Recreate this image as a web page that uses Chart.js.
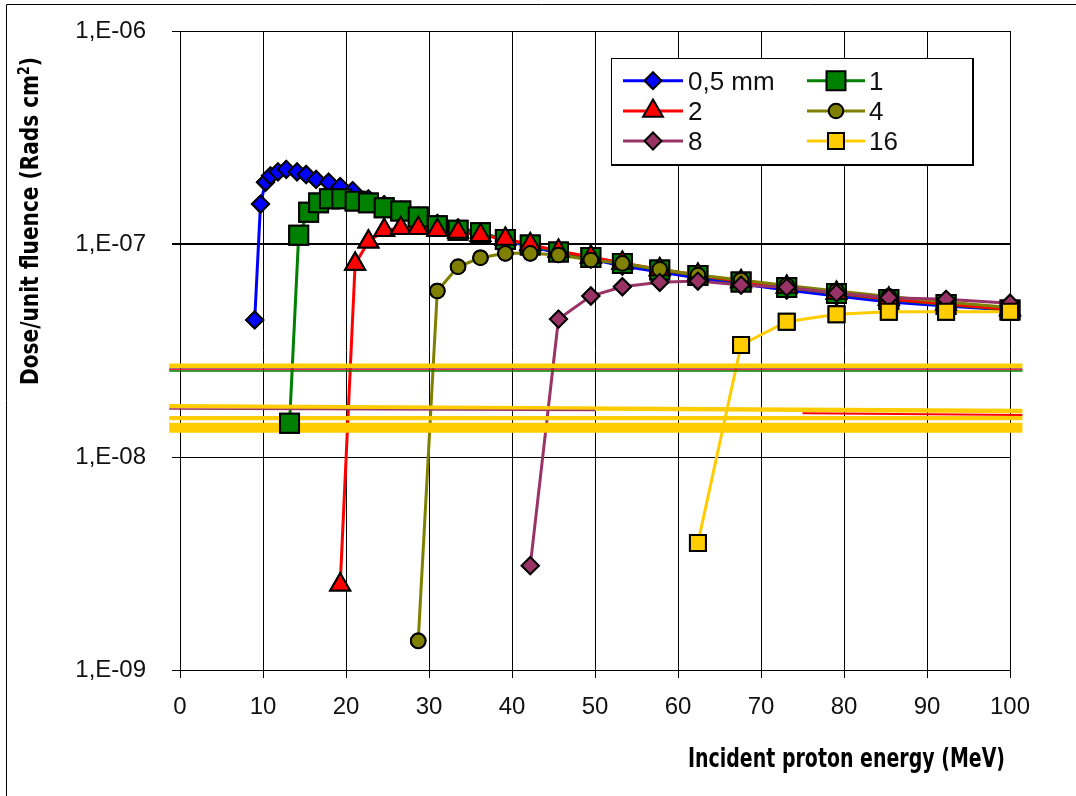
<!DOCTYPE html>
<html>
<head>
<meta charset="utf-8">
<script src="https://cdn.jsdelivr.net/npm/chart.js@4.4.1/dist/chart.umd.min.js"></script>
<style>
  html, body { margin: 0; padding: 0; background: #fff; }
  canvas { display: block; }
</style>
</head>
<body>
<canvas id="chart" width="1076" height="796"></canvas>
<script>
// Incident proton energy (MeV) and dose per unit fluence (rads cm2) for each shield thickness
const seriesNames = ['0,5 mm', '1', '2', '4', '8', '16'];

const energy05 = [9.0, 9.7, 10.3, 10.9, 11.8, 12.8, 14.1, 15.2, 16.4, 17.9, 19.3, 20.8, 22.7, 24.6, 26.6, 28.7, 31.0, 33.5, 36.2, 39.2, 42.2, 45.6, 49.5, 53.3, 57.8, 62.4, 67.6, 73.1, 79.1, 85.4, 92.3, 100];
const dose05 = [4.40e-8, 1.54e-7, 1.95e-7, 2.09e-7, 2.18e-7, 2.24e-7, 2.18e-7, 2.12e-7, 2.01e-7, 1.95e-7, 1.86e-7, 1.78e-7, 1.63e-7, 1.53e-7, 1.44e-7, 1.35e-7, 1.25e-7, 1.19e-7, 1.13e-7, 1.04e-7, 9.73e-8, 9.07e-8, 8.50e-8, 7.88e-8, 7.39e-8, 6.92e-8, 6.49e-8, 6.08e-8, 5.70e-8, 5.34e-8, 5.11e-8, 4.90e-8];

const energy1 = [13.2, 14.3, 15.5, 16.7, 18.0, 19.5, 21.1, 22.7, 24.6, 26.6, 28.7, 31.0, 33.5, 36.2, 39.2, 42.2, 45.6, 49.5, 53.3, 57.8, 62.4, 67.6, 73.1, 79.1, 85.4, 92.3, 100];
const dose1 = [1.44e-8, 1.10e-7, 1.41e-7, 1.56e-7, 1.63e-7, 1.63e-7, 1.59e-7, 1.56e-7, 1.48e-7, 1.43e-7, 1.34e-7, 1.22e-7, 1.16e-7, 1.13e-7, 1.05e-7, 9.89e-8, 9.17e-8, 8.64e-8, 8.10e-8, 7.55e-8, 7.11e-8, 6.63e-8, 6.25e-8, 5.86e-8, 5.49e-8, 5.20e-8, 4.90e-8];

const energy2 = [19.3, 21.1, 22.7, 24.6, 26.6, 28.7, 31.0, 33.5, 36.2, 39.2, 42.2, 45.6, 49.5, 53.3, 57.8, 62.4, 67.6, 73.1, 79.1, 85.4, 92.3, 100];
const dose2 = [2.51e-9, 8.05e-8, 1.025e-7, 1.16e-7, 1.185e-7, 1.185e-7, 1.16e-7, 1.14e-7, 1.10e-7, 1.055e-7, 9.95e-8, 9.27e-8, 8.69e-8, 8.14e-8, 7.59e-8, 7.15e-8, 6.67e-8, 6.28e-8, 5.89e-8, 5.52e-8, 5.23e-8, 4.92e-8];

const energy4 = [28.7, 31.0, 33.5, 36.2, 39.2, 42.2, 45.6, 49.5, 53.3, 57.8, 62.4, 67.6, 73.1, 79.1, 85.4, 92.3, 100];
const dose4 = [1.37e-9, 6.02e-8, 7.82e-8, 8.62e-8, 9.04e-8, 9.04e-8, 8.88e-8, 8.41e-8, 8.11e-8, 7.61e-8, 7.15e-8, 6.78e-8, 6.39e-8, 6.02e-8, 5.67e-8, 5.34e-8, 5.03e-8];

const energy8 = [42.2, 45.6, 49.5, 53.3, 57.8, 62.4, 67.6, 73.1, 79.1, 85.4, 92.3, 100];
const dose8 = [3.09e-9, 4.44e-8, 5.70e-8, 6.30e-8, 6.61e-8, 6.70e-8, 6.42e-8, 6.26e-8, 5.89e-8, 5.60e-8, 5.50e-8, 5.27e-8];

const energy16 = [62.4, 67.6, 73.1, 79.1, 85.4, 92.3, 100];
const dose16 = [3.95e-9, 3.36e-8, 4.32e-8, 4.68e-8, 4.81e-8, 4.81e-8, 4.81e-8];

// Horizontal trace lines that run across the plot
const traceFullX = [-1.3, 101.5];
const traceTopYellow = [2.68e-8, 2.68e-8];
const traceTopPurple = [2.595e-8, 2.595e-8];
const traceTopRed = [2.567e-8, 2.567e-8];
const traceTopGreen = [2.534e-8, 2.534e-8];
const traceMidYellow = [1.735e-8, 1.644e-8];
const tracePurpleX = [-1.3, 50];
const traceMidPurple = [1.68e-8, 1.655e-8];
const traceRedX = [75, 101.5];
const traceMidRed = [1.604e-8, 1.575e-8];
const traceLowYellow = [1.521e-8, 1.521e-8];
const traceBaseYellow = [1.373e-8, 1.373e-8];

// Axis ticks
const xTickValues = [0, 10, 20, 30, 40, 50, 60, 70, 80, 90, 100];
const xTickLabels = ['0', '10', '20', '30', '40', '50', '60', '70', '80', '90', '100'];
const yTickValues = [1e-9, 1e-8, 1e-7, 1e-6];
const yTickLabels = ['1,E-09', '1,E-08', '1,E-07', '1,E-06'];

const xTitle = 'Incident proton energy (MeV)';
const yTitleMain = 'Dose/unit fluence (Rads cm';
const yTitleSup = '2';
const yTitleEnd = ')';

// ---------------------------------------------------------------------------
const toPoints = (xs, ys) => xs.map((x, i) => ({ x: x, y: ys[i] }));

const seriesStyles = [
  { color: '#0000FF', shape: 'rectRot', radius: 8.5 },
  { color: '#008000', shape: 'rect', radius: 13.4 },
  { color: '#FF0000', shape: 'triangle', radius: 11.5 },
  { color: '#808000', shape: 'circle', radius: 7.3 },
  { color: '#993366', shape: 'rectRot', radius: 8.5 },
  { color: '#FFCC00', shape: 'rect', radius: 11.3 }
];
const seriesPoints = [
  toPoints(energy05, dose05),
  toPoints(energy1, dose1),
  toPoints(energy2, dose2),
  toPoints(energy4, dose4),
  toPoints(energy8, dose8),
  toPoints(energy16, dose16)
];

const seriesDatasets = seriesNames.map((name, i) => ({
  label: name,
  data: seriesPoints[i],
  borderColor: seriesStyles[i].color,
  backgroundColor: seriesStyles[i].color,
  borderWidth: 3,
  pointStyle: seriesStyles[i].shape,
  pointRadius: seriesStyles[i].radius,
  pointHoverRadius: seriesStyles[i].radius,
  pointBackgroundColor: seriesStyles[i].color,
  pointBorderColor: '#000',
  pointBorderWidth: 2,
  tension: 0,
  clip: false,
  order: 6 - i
}));

function traceLine(xs, ys, color, width) {
  return {
    label: '',
    data: toPoints(xs, ys),
    borderColor: color,
    backgroundColor: color,
    borderWidth: width,
    pointRadius: 0,
    pointHoverRadius: 0,
    borderCapStyle: 'butt',
    tension: 0,
    clip: false,
    order: 0
  };
}

const traceDatasets = [
  traceLine(traceFullX, traceTopGreen, '#008000', 1.5),
  traceLine(traceFullX, traceTopRed, '#FF0000', 1),
  traceLine(traceFullX, traceTopPurple, '#993366', 1.2),
  traceLine(traceFullX, traceTopYellow, '#FFCC00', 4.5),
  traceLine(tracePurpleX, traceMidPurple, '#993366', 1.5),
  traceLine(traceRedX, traceMidRed, '#FF0000', 2),
  traceLine(traceFullX, traceMidYellow, '#FFCC00', 4.3),
  traceLine(traceFullX, traceLowYellow, '#FFCC00', 4.3),
  traceLine(traceFullX, traceBaseYellow, '#FFCC00', 10)
];

const tickFont = { family: '"Liberation Sans", Arial, sans-serif', size: 24 };
const titleFamily = '"Liberation Sans Narrow", "DejaVu Sans Condensed", "Liberation Sans", sans-serif';

// Marker outline shared by the legend
function drawMarker(ctx, shape, x, y, r, fill) {
  ctx.beginPath();
  if (shape === 'circle') {
    ctx.arc(x, y, r, 0, Math.PI * 2);
  } else if (shape === 'rect') {
    const s = Math.SQRT1_2 * r;
    ctx.rect(x - s, y - s, 2 * s, 2 * s);
  } else if (shape === 'rectRot') {
    ctx.moveTo(x - r, y); ctx.lineTo(x, y - r); ctx.lineTo(x + r, y); ctx.lineTo(x, y + r);
    ctx.closePath();
  } else if (shape === 'triangle') {
    const h = Math.sin(Math.PI / 3) * r;
    ctx.moveTo(x, y - r); ctx.lineTo(x + h, y + r / 2); ctx.lineTo(x - h, y + r / 2);
    ctx.closePath();
  }
  ctx.fillStyle = fill;
  ctx.fill();
  ctx.lineWidth = 2;
  ctx.strokeStyle = '#000';
  ctx.stroke();
}

// Markers go on top of every line, series by series
const markersOnTop = {
  id: 'markersOnTop',
  afterDatasetsDraw(chart) {
    for (let i = 0; i < seriesNames.length; i++) {
      const meta = chart.getDatasetMeta(i);
      meta.data.forEach(p => p.draw(chart.ctx));
    }
  }
};

const legendBox = {
  id: 'legendBox',
  afterDraw(chart) {
    const ctx = chart.ctx;
    ctx.save();
    const L = 611, T = 58, R = 972, B = 164;
    ctx.fillStyle = '#fff';
    ctx.fillRect(L, T, R - L, B - T);
    ctx.strokeStyle = '#000';
    ctx.lineWidth = 1;
    ctx.strokeRect(L + 0.5, T + 0.5, R - L, B - T);
    ctx.lineWidth = 2;
    ctx.beginPath();
    ctx.moveTo(L, B + 1); ctx.lineTo(R + 1, B + 1); ctx.lineTo(R + 1, T);
    ctx.stroke();
    const rowsY = [80.7, 111, 141];
    const cols = [
      { x1: 623, x2: 683, mx: 653, tx: 688 },
      { x1: 807, x2: 865, mx: 836, tx: 869 }
    ];
    ctx.font = '26px "Liberation Sans", Arial, sans-serif';
    ctx.textBaseline = 'alphabetic';
    ctx.textAlign = 'left';
    seriesNames.forEach((name, i) => {
      const c = cols[i % 2];
      const y = rowsY[Math.floor(i / 2)];
      const st = seriesStyles[i];
      ctx.strokeStyle = st.color;
      ctx.lineWidth = 3;
      ctx.beginPath();
      ctx.moveTo(c.x1, y); ctx.lineTo(c.x2, y);
      ctx.stroke();
      drawMarker(ctx, st.shape, c.mx, y, st.radius, st.color);
      ctx.fillStyle = '#111';
      ctx.fillText(name, c.tx, y + 9);
    });
    ctx.restore();
  }
};

const titlesAndFrame = {
  id: 'titlesAndFrame',
  afterDraw(chart) {
    const ctx = chart.ctx;
    ctx.save();
    // outer frame
    ctx.strokeStyle = '#000';
    ctx.lineWidth = 1;
    ctx.beginPath();
    ctx.moveTo(6.5, 800); ctx.lineTo(6.5, 4.5); ctx.lineTo(1080, 4.5);
    ctx.stroke();

    ctx.fillStyle = '#000';
    ctx.textBaseline = 'alphabetic';
    ctx.textAlign = 'left';

    // x axis title
    ctx.font = 'bold 26px ' + titleFamily;
    let w = ctx.measureText(xTitle).width;
    ctx.save();
    ctx.translate(688, 767);
    ctx.scale(317 / w, 1);
    ctx.fillText(xTitle, 0, 0);
    ctx.restore();

    // y axis title, rotated, with superscript
    const mainFont = 'bold 24px ' + titleFamily;
    const supFont = 'bold 15px ' + titleFamily;
    ctx.font = mainFont;
    const w1 = ctx.measureText(yTitleMain).width;
    const w3 = ctx.measureText(yTitleEnd).width;
    ctx.font = supFont;
    const w2 = ctx.measureText(yTitleSup).width;
    const total = w1 + w2 + w3;
    ctx.save();
    ctx.translate(38, 221);
    ctx.rotate(-Math.PI / 2);
    ctx.scale(328 / total, 1);
    const x0 = -total / 2;
    ctx.font = mainFont;
    ctx.fillText(yTitleMain, x0, 0);
    ctx.font = supFont;
    ctx.fillText(yTitleSup, x0 + w1, -9);
    ctx.font = mainFont;
    ctx.fillText(yTitleEnd, x0 + w1 + w2, 0);
    ctx.restore();

    ctx.restore();
  }
};

new Chart(document.getElementById('chart'), {
  type: 'line',
  data: { datasets: seriesDatasets.concat(traceDatasets) },
  options: {
    responsive: false,
    animation: false,
    events: [],
    layout: { autoPadding: false, padding: { left: 0, top: 31, right: 66, bottom: 0 } },
    plugins: {
      legend: { display: false },
      tooltip: { enabled: false },
      title: { display: false }
    },
    scales: {
      x: {
        type: 'linear',
        min: 0,
        max: 100,
        afterBuildTicks(scale) { scale.ticks = xTickValues.map(v => ({ value: v })); },
        afterFit(scale) { scale.height = 126; scale.paddingLeft = 0; scale.paddingRight = 0; },
        ticks: {
          font: tickFont,
          color: '#111',
          padding: 15,
          maxRotation: 0,
          autoSkip: false,
          callback: (v) => xTickLabels[xTickValues.indexOf(v)]
        },
        grid: { color: '#000', lineWidth: 1, tickLength: 8, drawTicks: true },
        border: { color: '#000', width: 1 }
      },
      y: {
        type: 'logarithmic',
        min: 1e-9,
        max: 1e-6,
        afterBuildTicks(scale) { scale.ticks = yTickValues.map(v => ({ value: v })); },
        afterFit(scale) { scale.width = 180; scale.paddingTop = 0; scale.paddingBottom = 0; },
        ticks: {
          font: tickFont,
          color: '#111',
          padding: 26,
          autoSkip: false,
          callback: (v) => {
            const k = yTickValues.findIndex(t => Math.abs(t - v) / t < 1e-6);
            return k >= 0 ? yTickLabels[k] : '';
          }
        },
        grid: {
          color: '#000',
          lineWidth: (c) => (c.tick && Math.abs(c.tick.value - 1e-7) < 1e-12 ? 2 : 1),
          tickLength: 8,
          drawTicks: true
        },
        border: { color: '#000', width: 1 }
      }
    }
  },
  plugins: [markersOnTop, legendBox, titlesAndFrame]
});
</script>
</body>
</html>
